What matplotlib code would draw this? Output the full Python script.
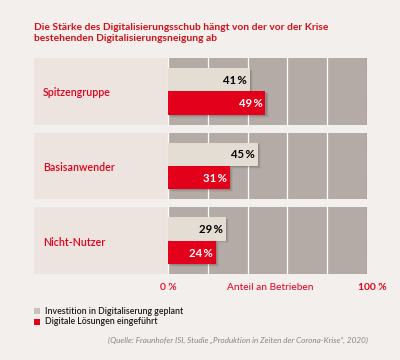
import matplotlib.pyplot as plt
from matplotlib.patches import Rectangle

# data
groups = ['Spitzengruppe', 'Basisanwender', 'Nicht-Nutzer']
geplant = [41, 45, 29]
eingefuehrt = [49, 31, 24]
series_names = ['Investition in Digitaliserung geplant', 'Digitale Lösungen eingeführt']

title = 'Die Stärke des Digitalisierungsschub hängt von der vor der Krise\nbestehenden Digitalisierungsneigung ab'
source = '(Quelle: Fraunhofer ISI, Studie \u201eProduktion in Zeiten der Corona-Krise\u201c, 2020)'

# colours
bg = '#f3efec'
label_bg = '#ede3df'
plot_bg = '#b4aba6'
grey_bar = '#e4ddd4'
red = '#e2001a'
title_red = '#d0101a'

plt.rcParams['font.family'] = ['Lato', 'DejaVu Sans']

fig = plt.figure(figsize=(4, 3.6), dpi=100, facecolor=bg)
ax = fig.add_axes([34 / 400, 1 - 274 / 360, 333 / 400, 216 / 360])
ax.set_facecolor('none')
left = -67.3
ax.set_xlim(left, 100)
ax.set_ylim(len(groups) - 1 + 0.448, -0.448)
ax.axis('off')

half = 0.448
bh = 0.315
for i, g in enumerate(groups):
    ax.add_patch(Rectangle((left, i - half), -left, 2 * half, facecolor=label_bg, edgecolor='none', zorder=0))
    ax.add_patch(Rectangle((0, i - half), 100, 2 * half, facecolor=plot_bg, edgecolor='none', zorder=0))
    for gx in [0, 20, 40, 60, 80]:
        ax.plot([gx, gx], [i - half, i + half], color='white', lw=0.9, zorder=1)
    ax.plot([100, 100], [i - half, i + half], color=red, lw=0.9, ls=(0, (1, 1)), zorder=1)
    ax.text(left + 4.5, i + 0.02, g, color=red, fontsize=7.7, ha='left', va='center', fontweight='semibold')

ypos_g = [i - bh / 2 for i in range(len(groups))]
ypos_r = [i + bh / 2 for i in range(len(groups))]

# soft shadows
for k, a in enumerate([0.10, 0.07, 0.04]):
    off = 0.6 + k * 0.6
    ax.barh([y + 0.012 * (k + 1) for y in ypos_g], geplant, height=bh, left=off, color='black', alpha=a, zorder=2, lw=0)
    ax.barh([y + 0.012 * (k + 1) for y in ypos_r], eingefuehrt, height=bh, left=off, color='black', alpha=a, zorder=2, lw=0)

ax.barh(ypos_g, geplant, height=bh, color=grey_bar, zorder=3, lw=0)
ax.barh(ypos_r, eingefuehrt, height=bh, color=red, zorder=4, lw=0)

for y, v in zip(ypos_g, geplant):
    ax.text(v - 1.5, y + 0.01, f'{v}\u2009%', ha='right', va='center', fontsize=8.2, fontweight='bold', color='black', zorder=5)
for y, v in zip(ypos_r, eingefuehrt):
    ax.text(v - 1.5, y + 0.01, f'{v}\u2009%', ha='right', va='center', fontsize=8.2, fontweight='bold', color='white', zorder=5)

# axis labels below
ty = 1 - 287 / 360
fig.text(168 / 400, ty, '0 %', color=red, fontsize=7.4, ha='center', va='center', fontweight='semibold')
fig.text(270 / 400, ty, 'Anteil an Betrieben', color=red, fontsize=7.3, ha='center', va='center')
fig.text(372 / 400, ty, '100 %', color=red, fontsize=7.4, ha='center', va='center', fontweight='bold')

# title
fig.text(34 / 400, 1 - 23 / 360, title, color=title_red, fontsize=7.35, fontweight='bold',
         ha='left', va='top', linespacing=1.3)

# legend
for k, (name, c) in enumerate(zip(series_names, ['#c8c1bd', red])):
    yy = 311 + k * 11
    fig.patches.append(Rectangle((34 / 400, 1 - (yy + 3) / 360), 6 / 400, 6 / 360,
                                 transform=fig.transFigure, facecolor=c, edgecolor='none'))
    fig.text(45 / 400, 1 - yy / 360, name, fontsize=6.3, ha='left', va='center', color='#1a1a1a', fontweight='semibold')

fig.text(368 / 400, 1 - 340 / 360, source, fontsize=5.9, style='italic', color='#8a8583', ha='right', va='center')

fig.savefig('out.png', dpi=100, facecolor=bg)
